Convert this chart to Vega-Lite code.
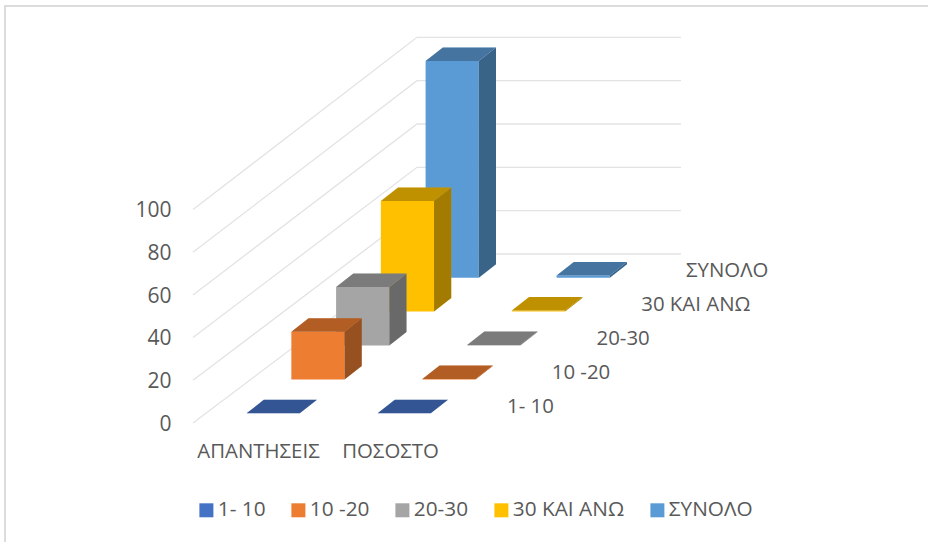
{
"$schema":"https://vega.github.io/schema/vega-lite/v6.json",
"width":928,"height":542,"autosize":"none","padding":0,"background":"white",
"config":{"view":{"stroke":null},"font":"Open Sans"},
"datasets":{
"bars":[
{"question":"ΑΠΑΝΤΗΣΕΙΣ","series":"ΣΥΝΟΛΟ","value":100},
{"question":"ΠΟΣΟΣΤΟ","series":"ΣΥΝΟΛΟ","value":1},
{"question":"ΑΠΑΝΤΗΣΕΙΣ","series":"30 ΚΑΙ ΑΝΩ","value":51},
{"question":"ΠΟΣΟΣΤΟ","series":"30 ΚΑΙ ΑΝΩ","value":0.51},
{"question":"ΑΠΑΝΤΗΣΕΙΣ","series":"20-30","value":27},
{"question":"ΠΟΣΟΣΤΟ","series":"20-30","value":0.27},
{"question":"ΑΠΑΝΤΗΣΕΙΣ","series":"10 -20","value":22},
{"question":"ΠΟΣΟΣΤΟ","series":"10 -20","value":0.22},
{"question":"ΑΠΑΝΤΗΣΕΙΣ","series":"1- 10","value":0},
{"question":"ΠΟΣΟΣΤΟ","series":"1- 10","value":0}
],
"ticks":[{"tick":0},{"tick":20},{"tick":40},{"tick":60},{"tick":80},{"tick":100}]
},
"layer":[
{"data":{"values":[{}]},"mark":{"type":"rule","stroke":"#dcdcdc","strokeWidth":2},"encoding":{"x":{"value":5},"y":{"value":5},"y2":{"value":542}}},
{"data":{"values":[{}]},"mark":{"type":"rule","stroke":"#dcdcdc","strokeWidth":2},"encoding":{"y":{"value":6},"x":{"value":4},"x2":{"value":928}}},
{"data":{"name":"ticks"},
"transform":[
{"calculate":"[0,1,2]","as":"t"},{"flatten":["t"]},
{"calculate":"datum.t==0?193:datum.t==1?417:681","as":"px"},
{"calculate":"datum.t==0?(-2+2.135*datum.tick)/2.14:(167+2.167*datum.tick)/2.14","as":"u"}
],
"mark":{"type":"line","stroke":"#e3e3e3","strokeWidth":1.3},
"encoding":{
"x":{"field":"px","type":"quantitative","scale":{"domain":[0,928],"nice":false,"zero":false},"axis":null},
"y":{"field":"u","type":"quantitative","scale":{"domain":[-56.54,196.73],"nice":false,"zero":false},
"axis":{"title":null,"orient":"left","offset":-176,"labelPadding":5,"labelOffset":3.5,"values":[0,20,40,60,80,100],"domain":false,"ticks":false,"grid":false,"labelFontSize":21,"labelColor":"#595959","labelFont":"Open Sans"}},
"detail":{"field":"tick"}}},
{"data":{"name":"bars"},
"transform":[
{"calculate":"indexof(['1- 10','10 -20','20-30','30 ΚΑΙ ΑΝΩ','ΣΥΝΟΛΟ'],datum.series)","as":"d"},
{"calculate":"indexof(['ΑΠΑΝΤΗΣΕΙΣ','ΠΟΣΟΣΤΟ'],datum.question)","as":"c"},
{"calculate":"246.6+131*datum.c+44.75*datum.d","as":"x0"},
{"calculate":"datum.x0+53.2","as":"x1"},
{"calculate":"(7.7+33.9*datum.d)/2.14","as":"ub"},
{"calculate":"datum.ub+datum.value*2.167/2.14","as":"ut"}
],
"layer":[
{"mark":{"type":"rect"},
"encoding":{
"x":{"field":"x0","type":"quantitative"},"x2":{"field":"x1"},
"y":{"field":"ut","type":"quantitative"},"y2":{"field":"ub"},
"color":{"field":"series","type":"nominal",
"scale":{"domain":["1- 10","10 -20","20-30","30 ΚΑΙ ΑΝΩ","ΣΥΝΟΛΟ"],"range":["#4472C4","#ED7D31","#A5A5A5","#FFC000","#5B9BD5"]},
"legend":{"title":null,"orient":"none","legendX":196,"legendY":499.5,"direction":"horizontal","columns":5,"symbolType":"square","symbolSize":196,"symbolStrokeWidth":0,"symbolOpacity":1,"labelFontSize":20.8,"labelColor":"#595959","labelFont":"Open Sans","labelOffset":1,"columnPadding":22,"padding":0}}}},
{"transform":[
{"calculate":"[0,1]","as":"t"},{"flatten":["t"]},
{"calculate":"datum.x1+datum.t*17.2","as":"sx"},
{"calculate":"datum.ub+datum.t*6.3","as":"sb"},
{"calculate":"datum.ut+datum.t*6.3","as":"st"},
{"calculate":"datum.x0+datum.t*17.2","as":"tx0"},
{"calculate":"datum.x1+datum.t*17.2","as":"tx1"}
],
"layer":[
{"mark":{"type":"area","opacity":1},
"encoding":{"x":{"field":"sx","type":"quantitative"},"y":{"field":"st","type":"quantitative","stack":null},"y2":{"field":"sb"},
"color":{"field":"series","type":"nominal","legend":null},"detail":{"field":"question"}}},
{"mark":{"type":"area","fill":"black","opacity":0.36},
"encoding":{"x":{"field":"sx","type":"quantitative"},"y":{"field":"st","type":"quantitative","stack":null},"y2":{"field":"sb"},
"detail":[{"field":"question"},{"field":"series"}]}},
{"mark":{"type":"area","orient":"horizontal","opacity":1},
"encoding":{"y":{"field":"st","type":"quantitative"},"x":{"field":"tx0","type":"quantitative","stack":null},"x2":{"field":"tx1"},
"color":{"field":"series","type":"nominal","legend":null},"detail":{"field":"question"}}},
{"mark":{"type":"area","orient":"horizontal","fill":"black","opacity":0.25},
"encoding":{"y":{"field":"st","type":"quantitative"},"x":{"field":"tx0","type":"quantitative","stack":null},"x2":{"field":"tx1"},
"detail":[{"field":"question"},{"field":"series"}]}}
]},
{"transform":[{"filter":"datum.c==0"},
{"calculate":"507+44.75*datum.d","as":"lx"},
{"calculate":"(421-(407-34*datum.d))/2.14","as":"lu"}],
"mark":{"type":"text","align":"left","baseline":"middle","fontSize":20.4,"fill":"#595959","font":"Open Sans"},
"encoding":{"x":{"field":"lx","type":"quantitative"},"y":{"field":"lu","type":"quantitative"},"text":{"field":"series"}}},
{"transform":[{"filter":"datum.d==0"},
{"calculate":"258.5+132*datum.c","as":"lx"},
{"calculate":"-14.3","as":"lu"}],
"mark":{"type":"text","align":"center","baseline":"middle","fontSize":20.4,"fill":"#595959","font":"Open Sans"},
"encoding":{"x":{"field":"lx","type":"quantitative"},"y":{"field":"lu","type":"quantitative"},"text":{"field":"question"}}}
]}
]
}
